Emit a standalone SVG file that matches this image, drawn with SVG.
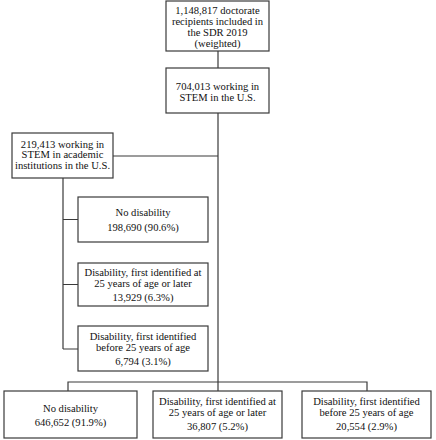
<svg xmlns="http://www.w3.org/2000/svg" width="436" height="440" viewBox="0 0 436 440">
<style>
.box{fill:#fff;stroke:#3a3a3a;stroke-width:1.2}
.ln{fill:none;stroke:#3a3a3a;stroke-width:1.2}
text{font-family:"Liberation Serif","Times New Roman",serif;font-size:10.6px;fill:#111;text-anchor:middle}
</style>
<rect width="436" height="440" fill="#fff"/>
<g id="connectors">
<path class="ln" d="M218 51V68M218 113V382M218 156H113M63 178V349M63 219.5H78M63 284.5H78M63 349H78M68 391V382H367V391M218 382V391"/>
</g>
<g id="n1"><rect class="box" x="166" y="1" width="103" height="50"/>
<text x="217.5" y="13.5">1,148,817 doctorate</text><text x="217.5" y="24.5">recipients included in</text><text x="217.5" y="35.5">the SDR 2019</text><text x="217.5" y="46.5">(weighted)</text></g>
<g id="n2"><rect class="box" x="166" y="68" width="103" height="45"/>
<text x="217.5" y="90">704,013 working in</text><text x="217.5" y="101">STEM in the U.S.</text></g>
<g id="n3"><rect class="box" x="12" y="133" width="101" height="45"/>
<text x="62.5" y="147.5">219,413 working in</text><text x="62.5" y="158">STEM in academic</text><text x="62.5" y="168.5">institutions in the U.S.</text></g>
<g id="n4"><rect class="box" x="78" y="197" width="130" height="45"/>
<text x="143" y="216">No disability</text><text x="143" y="231">198,690 (90.6%)</text></g>
<g id="n5"><rect class="box" x="78" y="263" width="130" height="43"/>
<text x="143" y="276">Disability, first identified at</text><text x="143" y="287">25 years of age or later</text><text x="143" y="301">13,929 (6.3%)</text></g>
<g id="n6"><rect class="box" x="78" y="326" width="130" height="45"/>
<text x="143" y="340">Disability, first identified</text><text x="143" y="351">before 25 years of age</text><text x="143" y="365">6,794 (3.1%)</text></g>
<g id="n7"><rect class="box" x="4" y="391" width="133" height="47"/>
<text x="70.5" y="412">No disability</text><text x="70.5" y="426">646,652 (91.9%)</text></g>
<g id="n8"><rect class="box" x="153" y="391" width="129" height="47"/>
<text x="217.5" y="405">Disability, first identified at</text><text x="217.5" y="416">25 years of age or later</text><text x="217.5" y="430">36,807 (5.2%)</text></g>
<g id="n9"><rect class="box" x="302" y="391" width="129" height="47"/>
<text x="366.5" y="405">Disability, first identified</text><text x="366.5" y="416">before 25 years of age</text><text x="366.5" y="430">20,554 (2.9%)</text></g>
</svg>
